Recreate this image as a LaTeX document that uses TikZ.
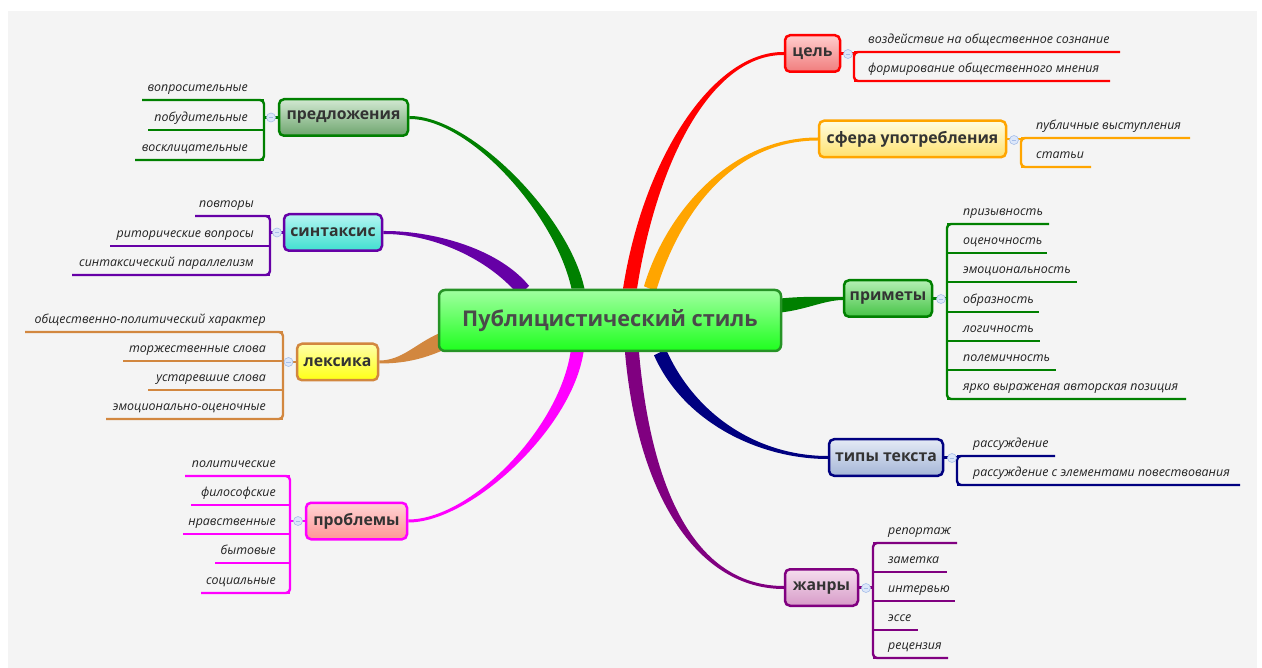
\documentclass[tikz,border=0pt]{standalone}
\usepackage{fontspec}
\setmainfont{Open Sans}
\usetikzlibrary{calc}
\definecolor{bgc}{HTML}{F4F4F4}
\definecolor{cgreen}{HTML}{008000}
\definecolor{cpurp}{HTML}{6600A6}
\definecolor{cbrown}{HTML}{D2873F}
\definecolor{cmag}{HTML}{FF00FF}
\definecolor{cred}{HTML}{FF0000}
\definecolor{corange}{HTML}{FFA500}
\definecolor{cnavy}{HTML}{000080}
\definecolor{cviol}{HTML}{800080}
\definecolor{btxt}{HTML}{333333}
\definecolor{ctxt}{HTML}{4A4A4A}
\definecolor{ltxt}{HTML}{222222}
\definecolor{mkf}{HTML}{DCE7FA}
\definecolor{mkd}{HTML}{A6BEE8}
\pgfdeclarelayer{back}
\pgfdeclarelayer{conn}
\pgfsetlayers{back,conn,main}
\tikzset{
  leaf/.style={font=\itshape\fontsize{12.4}{15}\selectfont, text=ltxt, inner sep=0pt},
  ll/.style={line width=2.4pt},
  branch/.style={rounded corners=5pt, line width=2.5pt, inner sep=0pt, minimum height=36.5pt,
    font=\bfseries\fontsize{15.8}{18}\selectfont, text=btxt},
  centre/.style={rounded corners=6pt, line width=2.5pt, inner sep=0pt,
    font=\bfseries\fontsize{21.7}{25}\selectfont, text=ctxt},
  marker/.style={circle, draw=mkd, fill=mkf, line width=0.6pt, minimum size=9pt, inner sep=0pt,
    path picture={\draw[mkd, line width=0.7pt] ([xshift=2.2pt]path picture bounding box.west) -- ([xshift=-2.2pt]path picture bounding box.east);}},
}
\newcommand\taper[7]{\fill[#1] ($#2+#3$) .. controls ($#4+#3$) and ($#5+#7$) .. ($#6+#7$) -- ($#6-#7$) .. controls ($#5-#7$) and ($#4-#3$) .. ($#2-#3$) -- cycle;}
% left group: #1 colour, #2 bracket x, #3 text right edge, #4 prefix, #5 list y/xstart/text
\newcommand\leavesL[5]{\foreach \yy/\xs/\lt [count=\i] in {#5} {
  \draw[#1, ll] (\xs,\yy) -- (#2,\yy);
  \node[leaf, anchor=base east] (#4\i) at (#3,\yy-8.5) {\lt};}}
\newcommand\leavesR[5]{\foreach \yy/\xe/\lt [count=\i] in {#5} {
  \draw[#1, ll] (#2,\yy) -- (\xe,\yy);
  \node[leaf, anchor=base west] (#4\i) at (#3,\yy-8.5) {\lt};}}
\begin{document}
\begin{tikzpicture}[x=1pt,y=-1pt]
\useasboundingbox (0,0) rectangle (1262,668);
\begin{pgfonlayer}{back}
\fill[white] (0,0) rectangle (1262,668);
\fill[bgc] (8,11) rectangle (1257,668);
\end{pgfonlayer}

% central node
\node[centre, draw=cgreen!85!white, top color={rgb,255:red,160;green,255;blue,160}, bottom color={rgb,255:red,30;green,255;blue,30},
  minimum width=342pt, minimum height=61pt] (c) at (610,320.5) {Публицистический стиль};

% branch nodes
\node[branch, draw=cgreen, top color={rgb,255:red,210;green,232;blue,210}, bottom color={rgb,255:red,110;green,165;blue,110}, minimum width=129pt] (pred) at (343.5,117.5) {предложения};
\node[branch, draw=cpurp, top color={rgb,255:red,180;green,245;blue,242}, bottom color={rgb,255:red,64;green,224;blue,208}, minimum width=98pt] (synt) at (333,232.5) {синтаксис};
\node[branch, draw=cbrown, top color={rgb,255:red,255;green,255;blue,170}, bottom color={rgb,255:red,255;green,255;blue,20}, minimum width=81pt] (lex) at (337.5,362) {лексика};
\node[branch, draw=cmag, top color={rgb,255:red,255;green,212;blue,212}, bottom color={rgb,255:red,255;green,150;blue,150}, minimum width=101pt] (probl) at (356.5,521) {проблемы};
\node[branch, draw=cred, top color={rgb,255:red,255;green,205;blue,205}, bottom color={rgb,255:red,240;green,125;blue,125}, minimum width=55pt] (cel) at (812.5,53.5) {цель};
\node[branch, draw=corange, top color={rgb,255:red,255;green,253;blue,225}, bottom color={rgb,255:red,255;green,225;blue,110}, minimum width=187pt] (sph) at (912.5,139) {сфера употребления};
\node[branch, draw=cgreen, top color={rgb,255:red,180;green,240;blue,180}, bottom color={rgb,255:red,70;green,195;blue,70}, minimum width=88pt] (prim) at (888,298.5) {приметы};
\node[branch, draw=cnavy, top color={rgb,255:red,228;green,234;blue,245}, bottom color={rgb,255:red,165;green,182;blue,215}, minimum width=114pt] (tip) at (886,457.5) {типы текста};
\node[branch, draw=cviol, top color={rgb,255:red,245;green,222;blue,238}, bottom color={rgb,255:red,215;green,155;blue,200}, minimum width=73pt] (zhan) at (821.5,587.5) {жанры};

% main tapered connectors
\begin{pgfonlayer}{conn}
\taper{cgreen}{(c.north)+(-32,0)}{(6.5,0)}{(562,215)}{(470,117)}{(pred.east)}{(0,-1.5)}
\taper{cpurp}{(c.north)+(-86,2)}{(5,-5)}{(492,252)}{(430,232)}{(synt.east)}{(0,-1.5)}
\taper{cbrown}{(c.west)+(4,21)}{(-3,-8)}{(418,352)}{(402,362)}{(lex.east)}{(0,-1.5)}
\taper{cmag}{(c.south)+(-33,0)}{(-6.5,0)}{(565,430)}{(470,521)}{(probl.east)}{(0,-1.5)}
\taper{cred}{(c.north)+(20,0)}{(7,0)}{(650,160)}{(712,53)}{(cel.west)}{(0,1.5)}
\taper{corange}{(c.north)+(40,0)}{(6,2.5)}{(672,215)}{(730,139)}{(sph.west)}{(0,1.5)}
\taper{cgreen}{(c.east)+(-2,-15)}{(0,7)}{(805,303)}{(825,298.5)}{(prim.west)}{(0,1.5)}
\taper{cnavy}{(c.south)+(50,0)}{(-6,3)}{(690,420)}{(760,457.5)}{(tip.west)}{(0,1.5)}
\taper{cviol}{(c.south)+(22,0)}{(-7,0)}{(645,500)}{(700,587.5)}{(zhan.west)}{(0,1.5)}
\end{pgfonlayer}

% ---- left groups ----
% предложения
\draw[cgreen, ll, rounded corners=4pt] (142,100) -- (264,100) -- (264,160) -- (135,160);
\leavesL{cgreen}{264}{248}{pl}{100/142/вопросительные, 130/148/побудительные, 160/135/восклицательные}
\draw[cgreen, ll] (264,117.5) -- (pred.west);
\node[marker] (mpred) at (271,117.5) {};
% синтаксис
\draw[cpurp, ll, rounded corners=4pt] (195,216) -- (270,216) -- (270,275) -- (72,275);
\leavesL{cpurp}{270}{254}{sl}{216/195/повторы, 246/110/риторические вопросы, 275/72/синтаксический параллелизм}
\draw[cpurp, ll] (270,232.5) -- (synt.west);
\node[marker] (msynt) at (277,232.5) {};
% лексика
\draw[cbrown, ll, rounded corners=4pt] (25,332) -- (283,332) -- (283,419) -- (106,419);
\leavesL{cbrown}{283}{266}{ll}{332/25/общественно-политический характер, 361/123/торжественные слова, 390/148/устаревшие слова, 419/106/эмоционально-оценочные}
\draw[cbrown, ll] (283,362) -- (lex.west);
\node[marker] (mlex) at (288.5,362) {};
% проблемы
\draw[cmag, ll, rounded corners=4pt] (185,476) -- (290,476) -- (290,593) -- (201,593);
\leavesL{cmag}{290}{276}{prl}{476/185/политические, 505/191/философские, 534/183/нравственные, 563/215/бытовые, 593/201/социальные}
\draw[cmag, ll] (290,521) -- (probl.west);
\node[marker] (mprobl) at (298,521) {};

% ---- right groups ----
% цель
\draw[cred, ll, rounded corners=4pt] (1120,52) -- (854,52) -- (854,81) -- (1110,81);
\leavesR{cred}{854}{868}{cl}{52/1120/воздействие на общественное сознание, 81/1110/формирование общественного мнения}
\draw[cred, ll] (cel.east) -- (854,53.5);
\node[marker] (mcel) at (848,54) {};
% сфера употребления
\draw[corange, ll, rounded corners=4pt] (1190,138) -- (1021,138) -- (1021,167) -- (1091,167);
\leavesR{corange}{1021}{1036}{sfl}{138/1190/публичные выступления, 167/1091/статьи}
\draw[corange, ll] (sph.east) -- (1021,139);
\node[marker] (msph) at (1014,140) {};
% приметы
\draw[cgreen, ll, rounded corners=4pt] (1049,224) -- (947,224) -- (947,399) -- (1186,399);
\leavesR{cgreen}{947}{963}{pml}{224/1049/призывность, 253/1047/оценочность, 282/1077/эмоциональность, 312/1039/образность, 341/1040/логичность, 370/1056/полемичность, 399/1186/ярко выраженая авторская позиция}
\draw[cgreen, ll] (prim.east) -- (947,298.5);
\node[marker] (mprim) at (941,299) {};
% типы текста
\draw[cnavy, ll, rounded corners=4pt] (1055,456) -- (957,456) -- (957,485) -- (1240,485);
\leavesR{cnavy}{957}{973}{tl}{456/1055/рассуждение, 485/1240/рассуждение с элементами повествования}
\draw[cnavy, ll] (tip.east) -- (957,457.5);
\node[marker] (mtip) at (952,458) {};
% жанры
\draw[cviol, ll, rounded corners=4pt] (957,543) -- (873,543) -- (873,658) -- (948,658);
\leavesR{cviol}{873}{888}{zl}{543/957/репортаж, 572/947/заметка, 601/955/интервью, 630/918/эссе, 658/948/рецензия}
\draw[cviol, ll] (zhan.east) -- (873,587.5);
\node[marker] (mzhan) at (866,588) {};
\end{tikzpicture}
\end{document}
